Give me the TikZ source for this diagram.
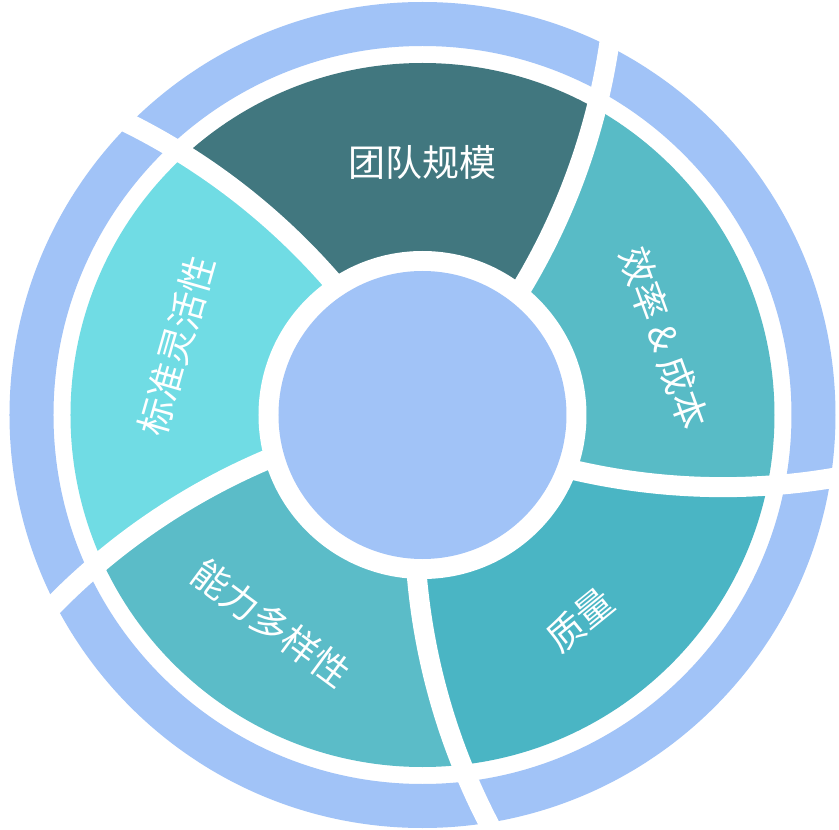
\documentclass[tikz,border=0pt]{standalone}
\usepackage{fontspec}
\newfontfamily\cjk{Noto Sans CJK SC}
\usepackage{xcolor}
\usepackage{tikz}
\definecolor{wheelBlue}{HTML}{A1C3F7}
\definecolor{wheelDark}{HTML}{41777F}
\definecolor{wheelLeft}{HTML}{70DCE4}
\definecolor{wheelLow}{HTML}{5BBCC8}
\definecolor{wheelQual}{HTML}{4AB5C4}
\definecolor{wheelRight}{HTML}{58BBC6}

\begin{document}
\begin{tikzpicture}[
  x=1pt, y=1pt,
  font=\cjk\fontsize{37}{44}\selectfont,
  gap/.style={draw=white, line width=20pt},
  label/.style={text=white, inner sep=0pt}
]
  \useasboundingbox (-422.5,-415) rectangle (416.5,415);
  \fill[white] (-422.5,-415) rectangle (416.5,415);
  \fill[wheelBlue, even odd rule] (0,0) circle[radius=413] (0,0) circle[radius=369];

  % segments between the curved cuts
  \begin{scope}
    \clip (0,0) circle[radius=352];
    \foreach \a/\col in {135/wheelDark, 207/wheelLeft, 279/wheelLow, 351/wheelQual, 423/wheelRight} {
      \pgfmathsetmacro{\b}{\a+72}
      \fill[\col] (0,0) arc[start angle=\a+180, end angle=\a+233.9, radius=662]
        -- ({\b-63.05}:600) arc[start angle=\b+233.9, end angle=\b+180, radius=662] -- cycle;
    }
  \end{scope}
  \foreach \a in {135,207,...,423}
    \draw[gap] (0,0) arc[start angle=\a+180, end angle=\a+220, radius=662];

  \fill[white] (0,0) circle[radius=164];
  \fill[wheelBlue] (0,0) circle[radius=144];

  \node[label] (team) at (0,252.5) {团队规模};
  \node[label, rotate=-70] (cost) at (241.5,77) {效率 \& 成本};
  \node[label, rotate=39] (quality) at (157.5,-205) {质量};
  \node[label, rotate=-36.5] (skills) at (-151.7,-208.3) {能力多样性};
  \node[label, rotate=74] (flex) at (-246,69) {标准灵活性};
\end{tikzpicture}
\end{document}
